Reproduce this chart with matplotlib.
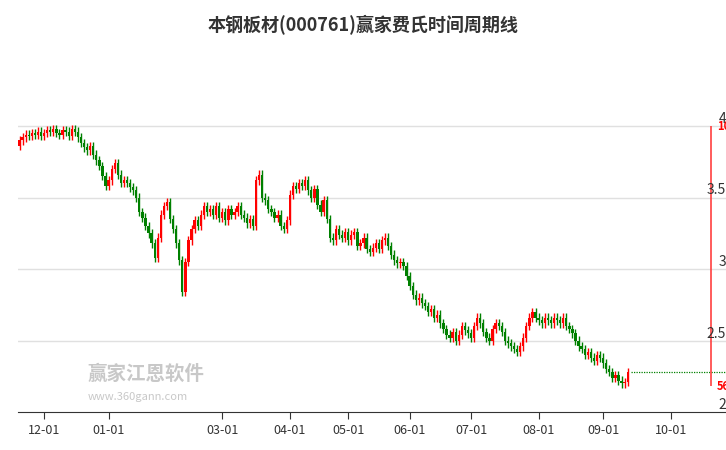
import matplotlib
matplotlib.use("Agg")
import matplotlib.pyplot as plt
import numpy as np

plt.rcParams['font.family'] = ['Noto Sans CJK SC', 'DejaVu Sans']

closes = [3.90,3.92,3.94,3.93,3.95,3.94,3.96,3.93,3.95,3.97,
3.96,3.98,3.95,3.94,3.97,3.96,3.93,3.98,3.96,3.92,
3.88,3.85,3.83,3.86,3.80,3.76,3.72,3.65,3.58,3.62,
3.70,3.74,3.66,3.60,3.62,3.60,3.57,3.55,3.50,3.40,
3.36,3.30,3.25,3.18,3.08,3.22,3.38,3.44,3.47,3.35,
3.28,3.18,3.06,2.84,3.05,3.20,3.28,3.34,3.30,3.38,
3.44,3.40,3.42,3.38,3.44,3.36,3.40,3.34,3.42,3.38,
3.40,3.44,3.38,3.36,3.32,3.35,3.30,3.62,3.66,3.50,
3.48,3.42,3.40,3.36,3.38,3.30,3.28,3.34,3.52,3.58,
3.56,3.60,3.58,3.62,3.55,3.50,3.56,3.45,3.40,3.48,
3.35,3.22,3.20,3.28,3.24,3.22,3.26,3.20,3.24,3.26,
3.16,3.18,3.22,3.14,3.12,3.15,3.18,3.14,3.20,3.22,
3.16,3.10,3.06,3.04,3.05,3.02,2.95,2.88,2.82,2.78,
2.80,2.76,2.74,2.70,2.72,2.66,2.68,2.62,2.58,2.54,
2.52,2.56,2.50,2.54,2.60,2.57,2.55,2.52,2.60,2.66,
2.62,2.56,2.52,2.50,2.58,2.62,2.60,2.56,2.50,2.48,
2.46,2.44,2.42,2.46,2.52,2.60,2.66,2.70,2.66,2.64,
2.62,2.66,2.64,2.62,2.66,2.64,2.62,2.66,2.60,2.58,
2.55,2.50,2.46,2.44,2.40,2.42,2.38,2.36,2.40,2.38,
2.34,2.30,2.28,2.24,2.26,2.22,2.20,2.21,2.28]
first_open = 3.86
tick_pos = [0, 21, 58, 80, 99, 119, 139, 161, 182, 204]
tick_labels = ['12-01','01-01','03-01','04-01','05-01','06-01','07-01','08-01','09-01','10-01']
ytick_vals = [2, 2.5, 3, 3.5, 4]
ytick_labels = ['2', '2.5', '3', '3.5', '4']
last_price = 2.28
cycle_top, cycle_bottom = 4.0, 2.18
cycle_labels = ['100%', '56%']

fig = plt.figure(figsize=(7.26, 4.5), dpi=100)
ax = fig.add_axes([18/726, 38/450, 1 - 18/726, (450-38-69)/450])
ax.set_xlim(-8.5, 222)
ax.set_ylim(2, 2 + (412-69)/143)

x0 = -8
opens = [first_open] + closes[:-1]
for i, (o, c) in enumerate(zip(opens, closes)):
    x = x0 + i
    col = '#ff0000' if c >= o else '#008000'
    hi = max(o, c) + 0.03
    lo = min(o, c) - 0.03
    ax.vlines(x, lo, hi, color=col, lw=1)
    ax.bar(x, max(abs(c-o), 0.006), bottom=min(o, c), width=0.75, color=col, lw=0)

ax.hlines(last_price, x0 + len(closes), 222, colors='#008000', linestyles=(0, (1, 1)), lw=0.9)
ax.vlines(217, cycle_bottom, cycle_top, colors='#ff4040', lw=1.2)
ax.text(219, cycle_top, cycle_labels[0], color='red', fontsize=8, fontweight='bold', va='center', ha='left', clip_on=False)
ax.text(219, cycle_bottom, cycle_labels[1], color='red', fontsize=8, fontweight='bold', va='center', ha='left', clip_on=False)

for v in ytick_vals[1:]:
    ax.axhline(v, color='#e0e0e0', lw=1, zorder=0)
for v, l in zip(ytick_vals, ytick_labels):
    ax.text(222, v, l, ha='right', va='bottom', fontsize=10, color='#333333')

ax.set_yticks([])
ax.set_xticks(tick_pos)
ax.set_xticklabels(tick_labels, fontsize=9, color='#333333')
ax.tick_params(axis='x', length=5, color='#333333')
for s in ['top', 'right', 'left']:
    ax.spines[s].set_visible(False)
ax.spines['bottom'].set_color('#333333')

fig.text(0.5, 0.945, '本钢板材(000761)赢家费氏时间周期线', ha='center', va='center',
         fontsize=13, fontweight='bold', color='#333333')
fig.text(88/726, 1 - 374/450, '赢家江恩软件', fontsize=14, color='#c8c8c8', va='center', fontweight='bold')
fig.text(88/726, 1 - 397/450, 'www.360gann.com', fontsize=8, color='#c8c8c8', va='center')

fig.savefig('out.png', dpi=100)
